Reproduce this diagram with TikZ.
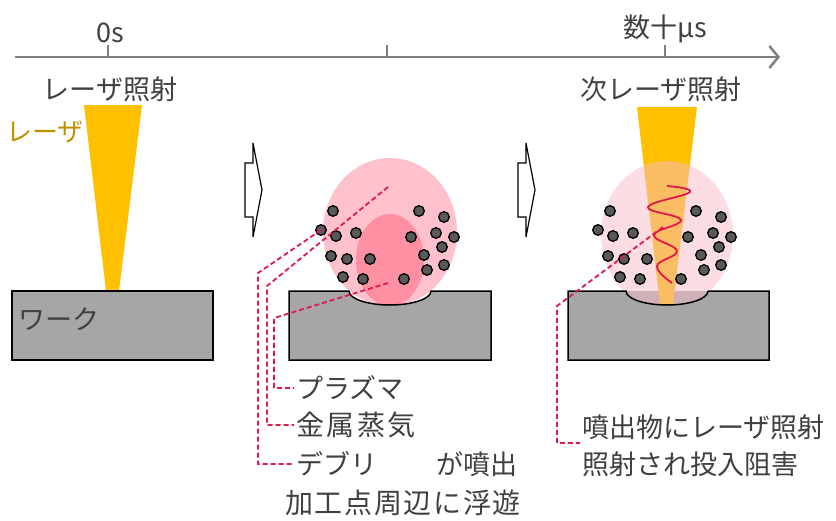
\documentclass[tikz,border=0pt]{standalone}
\usepackage{fontspec}
\setmainfont{Noto Sans CJK JP}
\usetikzlibrary{arrows.meta}

\definecolor{axisgray}{HTML}{7F7F7F}
\definecolor{txtgray}{HTML}{404040}
\definecolor{workgray}{HTML}{A6A6A6}
\definecolor{dotgray}{HTML}{595959}
\definecolor{laser}{HTML}{FFC000}
\definecolor{lasertxt}{HTML}{BF9000}
\definecolor{vapour}{HTML}{FFC2CD}
\definecolor{plasma}{HTML}{FF8FA3}
\definecolor{haze}{HTML}{F7BBC7}
\definecolor{leadred}{HTML}{E0194D}

\begin{document}
\begin{tikzpicture}[x=1pt, y=-1pt,
        timeline/.style={draw=axisgray, line width=2.5pt},
        work/.style={fill=workgray, draw=black, line width=1.5pt},
        particle/.style={fill=dotgray, draw=black, line width=1.3pt},
        leader/.style={draw=leadred, line width=1.8pt, dash pattern=on 5pt off 3pt},
        txt/.style={text=txtgray, font=\fontsize{27}{37}\selectfont, inner sep=2pt},
        wide/.style={font=\fontsize{28}{37}\selectfont\addfontfeature{LetterSpace=#1}},
        stagearrow/.pic={\draw[fill=white, line width=1.2pt]
            (0,-27) -- (8,-27) -- (8,-47) -- (17,0) -- (8,47) -- (8,27) -- (0,27) -- cycle;},
        spatter/.pic={\foreach \dx/\dy in {-57/-19,-69/0,-54/6,-34/3,-59/26,-43/29,-20/29,
                -47/47,-27/49,14/49,29/-19,54/-13,21/7,46/3,64/7,52/17,34/25,54/35,37/40}
            \filldraw[particle] (\dx,\dy) circle (5.3);}
    ]
    \useasboundingbox (0,0) rectangle (836,520);

    % time axis
    \draw[timeline, -{Straight Barb[length=9pt, width=22pt]}] (15,57) -- (780,57);
    \foreach \t in {108,387,665}
        \draw[timeline, line width=2pt] (\t,45) -- (\t,57);
    \node[txt] (t0) at (110,33) {0s};
    \node[txt] (tn) at (665,29) {数十μs};
    \node[txt] (shot1) at (110,89) {レーザ照射};
    \node[txt] (shot2) at (661,89) {次レーザ照射};

    % first shot
    \fill[laser] (84,105) -- (142,105) -- (119,291) -- (106,291) -- cycle;
    \node[txt, text=lasertxt, font=\fontsize{26}{30}\selectfont] (beamtxt) at (45,132) {レーザ};
    \path[work] (12,291) rectangle (213,360);
    \node[txt, anchor=west] (worktxt) at (16,319) {ワーク};

    \pic at (245,190) {stagearrow};

    % vapour, plasma and debris
    \fill[vapour] (390,232) ellipse (67 and 74);
    \fill[plasma] (390,260) ellipse (34 and 46);
    \path[work] (289,291) -- (349,291)
        arc[start angle=180, end angle=0, x radius=41, y radius=14]
        -- (491,291) -- (491,360) -- (289,360) -- cycle;
    \pic at (390,230) {spatter};

    \node[txt, anchor=west] (plasmatxt) at (294,388) {プラズマ};
    \node[txt, wide=9, anchor=west] (vapourtxt) at (294,425) {金属蒸気};
    \node[txt, anchor=west] (debristxt) at (294,464) {デブリ\hspace{2.2em}が噴出};
    \node[txt, wide=6, anchor=west] (drifttxt) at (283,503) {加工点周辺に浮遊};

    \coordinate (plasma-src) at (388,283);
    \coordinate (vapour-src) at (388,187);
    \coordinate (debris-src) at (321,230);
    \draw[leader] (plasma-src) -- (274,318) |- (plasmatxt.west);
    \draw[leader] (vapour-src) -- (267,286) |- (vapourtxt.west);
    \draw[leader] (debris-src) -- (258,273) |- (debristxt.west);

    \pic at (518,190) {stagearrow};

    % next shot through the cloud
    \fill[workgray] (568,291) rectangle (769,360);
    \fill[laser] (637,107) -- (697,107) -- (673,305) -- (660,305) -- cycle;
    \begin{scope}
        \clip (560,140) -- (560,291) -- (626,291)
            arc[start angle=180, end angle=0, x radius=41, y radius=14]
            -- (780,291) -- (780,140) -- cycle;
        \fill[haze, opacity=.5] (667,235) ellipse (66 and 74);
    \end{scope}
    \draw[line width=1.5pt] (708,291) -- (769,291) -- (769,360) -- (568,360) -- (568,291) -- (626,291)
        arc[start angle=180, end angle=0, x radius=41, y radius=14];
    \pic at (667,230) {spatter};
    \draw[leadred, line width=1.8pt] plot[smooth, tension=0.7] coordinates
        {(667,186) (690,192) (648,207) (681,220) (654,235) (677,251) (657,266) (672,283)};

    \node[txt, anchor=west, align=left] (blockedtxt) at (580,446)
        {噴出物にレーザ照射\\照射され投入阻害};
    \coordinate (blocked-src) at (663,227);
    \draw[leader] (blocked-src) -- (557,306) |- ([yshift=3pt]blockedtxt.west);
\end{tikzpicture}
\end{document}
